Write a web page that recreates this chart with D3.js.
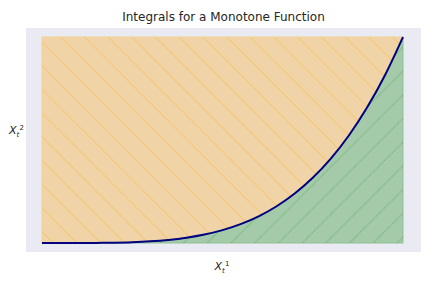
<!DOCTYPE html>
<html>
<head>
<meta charset="utf-8">
<script src="https://cdn.jsdelivr.net/npm/d3@7"></script>
<style>
  body { margin: 0; background: #fff; }
  svg { display: block; font-family: "DejaVu Sans", sans-serif; }
</style>
</head>
<body>
<svg id="chart" width="432" height="288"></svg>
<script>
// curve (monotone, 0 -> 1)
var xs = [0, 0.05, 0.1, 0.15, 0.2, 0.25, 0.3, 0.35, 0.4, 0.45, 0.5,
          0.55, 0.6, 0.65, 0.7, 0.75, 0.8, 0.85, 0.9, 0.95, 1]
var ys = [0, 0.0000, 0.0001, 0.0005, 0.0016, 0.0039, 0.0081, 0.015, 0.0256, 0.041, 0.0625,
          0.0915, 0.1296, 0.1785, 0.2401, 0.3164, 0.4096, 0.522, 0.6561, 0.8145, 1]
var title = "Integrals for a Monotone Function"

var svg = d3.select("#chart")

// axes box
var box = { left: 26, top: 28, right: 421, bottom: 252 }
var x = d3.scaleLinear().domain([0, 1]).range([42, 403])
var y = d3.scaleLinear().domain([0, 1]).range([243, 37])

var pts = xs.map((v, i) => ({ x: v, y: ys[i] }))

var defs = svg.append("defs")
var s = 23.7

var back = defs.append("pattern")
    .attr("id", "hatch-back")
    .attr("patternUnits", "userSpaceOnUse")
    .attr("width", s).attr("height", s)
back.append("path")
    .attr("d", `M ${-s} 0 L ${s} ${2 * s} M 0 0 L ${s} ${s} M 0 ${-s} L ${2 * s} ${s}`)
    .attr("stroke", "#f5c571").attr("stroke-width", 1)

var fwd = defs.append("pattern")
    .attr("id", "hatch-fwd")
    .attr("patternUnits", "userSpaceOnUse")
    .attr("width", s).attr("height", s)
fwd.append("path")
    .attr("d", `M 0 ${s} L ${s} 0 M ${-s} ${s} L ${s} ${-s} M 0 ${2 * s} L ${2 * s} 0`)
    .attr("stroke", "#73b476").attr("stroke-width", 1)
    .attr("stroke-dasharray", "1.2,0.6")

svg.append("rect")
    .attr("x", box.left).attr("y", box.top)
    .attr("width", box.right - box.left).attr("height", box.bottom - box.top)
    .attr("fill", "#eaeaf2")

var above = d3.area()
    .x(d => x(d.x))
    .y0(d => y(1))
    .y1(d => y(d.y))
    .curve(d3.curveMonotoneX)

var below = d3.area()
    .x(d => x(d.x))
    .y0(d => y(0))
    .y1(d => y(d.y))
    .curve(d3.curveMonotoneX)

svg.append("path").attr("d", above(pts))
    .attr("fill", "#f0d4a8").attr("stroke", "#f3cf94").attr("stroke-width", 1)
svg.append("path").attr("d", above(pts)).attr("fill", "url(#hatch-back)")

svg.append("path").attr("d", below(pts))
    .attr("fill", "#a4caa9").attr("stroke", "#8fc095").attr("stroke-width", 1)
svg.append("path").attr("d", below(pts)).attr("fill", "url(#hatch-fwd)")

var line = d3.line()
    .x(d => x(d.x))
    .y(d => y(d.y))
    .curve(d3.curveMonotoneX)

svg.append("path").attr("d", line(pts))
    .attr("fill", "none").attr("stroke", "#000080").attr("stroke-width", 2)

svg.append("text")
    .attr("x", (box.left + box.right) / 2).attr("y", 21)
    .attr("text-anchor", "middle")
    .style("font-size", "12px").style("fill", "#262626")
    .text(title)

function mathLabel(tx, ty, sup, anchor) {
    var t = svg.append("text")
        .attr("x", tx).attr("y", ty)
        .attr("text-anchor", anchor)
        .style("font-size", "11px").style("fill", "#262626")
    t.append("tspan").style("font-style", "italic").text("X")
    t.append("tspan").attr("dy", 2.5).style("font-size", "7px").style("font-style", "italic").text("t")
    t.append("tspan").attr("dx", 0.3).attr("dy", -7).style("font-size", "7px").text(sup)
}

mathLabel(222, 270, "1", "middle")
mathLabel(24, 134, "2", "end")
</script>
</body>
</html>
